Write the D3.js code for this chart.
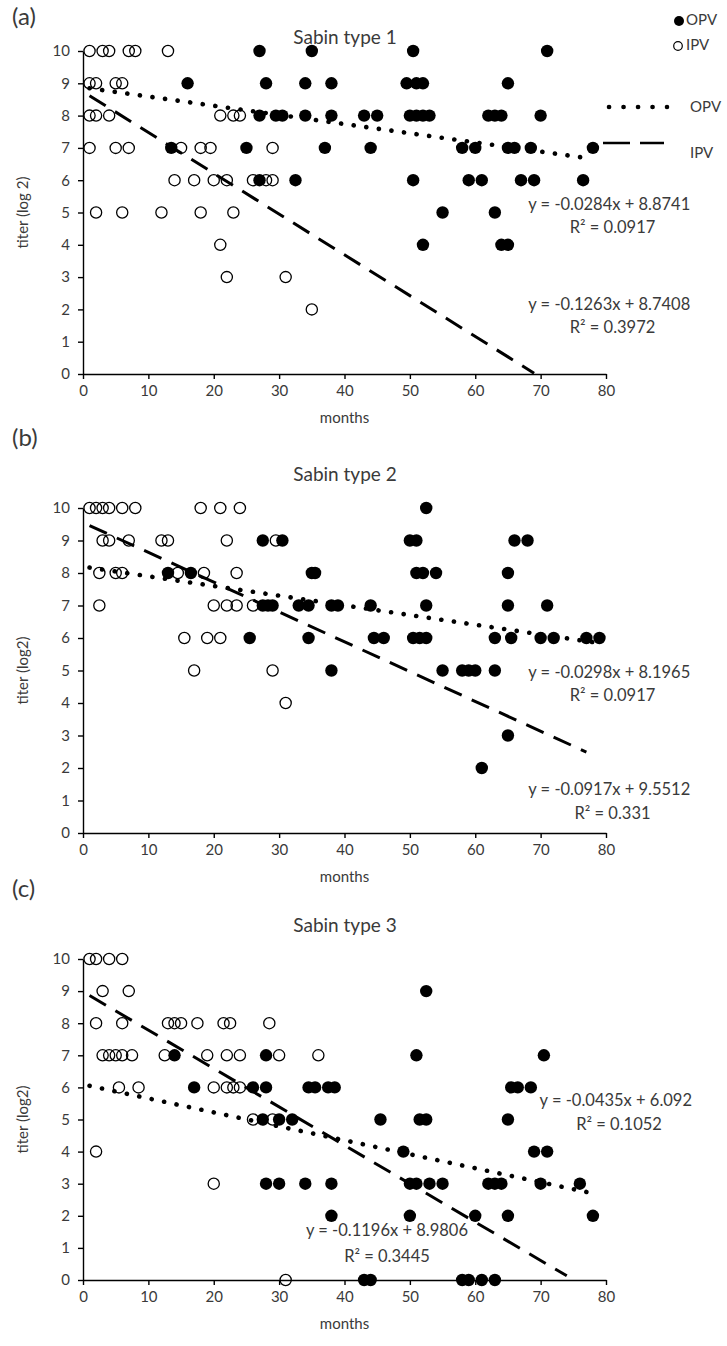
<!DOCTYPE html>
<html>
<head>
<meta charset="utf-8">
<script src="https://cdn.jsdelivr.net/npm/d3@7"></script>
<style>
  body { margin: 0; background: #fff; }
  svg { display: block; }
  text { font-family: Lato, "Open Sans", sans-serif; fill: #3a3a3a; }
</style>
</head>
<body>
<svg id="chart" width="727" height="1346"></svg>
<script>
// tick values
var monthTicks = [0, 10, 20, 30, 40, 50, 60, 70, 80];
var titerTicks = [0, 1, 2, 3, 4, 5, 6, 7, 8, 9, 10];

// Sabin type 1 : [months, titer]
var type1OPV = [[27,10],[35,10],[50.5,10],[71,10],
  [16,9],[28,9],[34,9],[38,9],[49.5,9],[51,9],[52,9],[65,9],
  [27,8],[29.5,8],[30.5,8],[34,8],[38,8],[43,8],[45,8],[50,8],[51,8],[52,8],[53,8],[62,8],[63,8],[64,8],[70,8],
  [13.5,7],[25,7],[37,7],[44,7],[58,7],[60,7],[65,7],[66,7],[68.5,7],[78,7],
  [27,6],[32.5,6],[50.5,6],[59,6],[61,6],[67,6],[69,6],[76.5,6],
  [55,5],[63,5],
  [52,4],[64,4],[65,4]];
var type1IPV = [[1,10],[3,10],[4,10],[7,10],[8,10],[13,10],
  [1,9],[2,9],[5,9],[6,9],
  [1,8],[2,8],[4,8],[21,8],[23,8],[24,8],
  [1,7],[5,7],[7,7],[15,7],[18,7],[19.5,7],[29,7],
  [14,6],[17,6],[20,6],[22,6],[26,6],[28,6],[29,6],
  [2,5],[6,5],[12,5],[18,5],[23,5],
  [21,4],
  [22,3],[31,3],
  [35,2]];

// Sabin type 2
var type2OPV = [[52.5,10],
  [27.5,9],[30.5,9],[50,9],[51,9],[66,9],[68,9],
  [13,8],[16.5,8],[35,8],[35.5,8],[51,8],[52,8],[54,8],[65,8],
  [27.5,7],[28.3,7],[29,7],[33,7],[34.5,7],[38,7],[39,7],[44,7],[52.5,7],[65,7],[71,7],
  [25.5,6],[34.5,6],[44.5,6],[46,6],[50.5,6],[51.5,6],[52.5,6],[63,6],[65.5,6],[70,6],[72,6],[77,6],[79,6],
  [38,5],[55,5],[58,5],[59,5],[60,5],[63,5],
  [65,3],
  [61,2]];
var type2IPV = [[1,10],[2,10],[3,10],[4,10],[6,10],[8,10],[18,10],[21,10],[24,10],
  [3,9],[4,9],[7,9],[12,9],[13,9],[22,9],[29.5,9],
  [2.5,8],[5,8],[6,8],[14.5,8],[18.5,8],[23.5,8],
  [2.5,7],[20,7],[22,7],[23.5,7],[26,7],
  [15.5,6],[19,6],[21,6],
  [17,5],[29,5],
  [31,4]];

// Sabin type 3
var type3OPV = [[52.5,9],
  [14,7],[28,7],[51,7],[70.5,7],
  [17,6],[26,6],[28,6],[34.5,6],[35.5,6],[37.5,6],[38.5,6],[65.5,6],[66.5,6],[68.5,6],
  [27.5,5],[30,5],[32,5],[45.5,5],[51.5,5],[52.5,5],[65,5],
  [49,4],[69,4],[71,4],
  [28,3],[30,3],[34,3],[38,3],[50,3],[51,3],[53,3],[55,3],[62,3],[63,3],[64,3],[70,3],[76,3],
  [38,2],[50,2],[60,2],[65,2],[78,2],
  [43,0],[44,0],[58,0],[59,0],[61,0],[63,0]];
var type3IPV = [[1,10],[2,10],[4,10],[6,10],
  [3,9],[7,9],
  [2,8],[6,8],[13,8],[14,8],[15,8],[17.5,8],[21.5,8],[22.5,8],[28.5,8],
  [3,7],[4,7],[5,7],[6,7],[7.5,7],[12.5,7],[19,7],[22,7],[24,7],[30,7],[36,7],
  [5.5,6],[8.5,6],[20,6],[22,6],[23,6],[24,6],
  [26,5],[29,5],
  [2,4],
  [20,3],
  [31,0]];

// linear trendlines: slope, intercept, x from, x to
var type1OPVFit = [-0.0284, 8.8741, 1, 77];
var type1IPVFit = [-0.1263, 8.7408, 1, 69];
var type2OPVFit = [-0.0298, 8.1965, 1, 78];
var type2IPVFit = [-0.0917, 9.5512, 1, 77];
var type3OPVFit = [-0.0435, 6.092, 1, 77];
var type3IPVFit = [-0.1196, 8.9806, 1, 74];

var titles = ["Sabin type 1", "Sabin type 2", "Sabin type 3"];
var panelLabels = ["(a)", "(b)", "(c)"];
var yTitles = ["titer (log 2)", "titer (log2)", "titer (log2)"];
var eqTexts = [
  ["y = -0.0284x + 8.8741", "R\u00b2 = 0.0917", "y = -0.1263x + 8.7408", "R\u00b2 = 0.3972"],
  ["y = -0.0298x + 8.1965", "R\u00b2 = 0.0917", "y = -0.0917x + 9.5512", "R\u00b2 = 0.331"],
  ["y = -0.0435x + 6.092", "R\u00b2 = 0.1052", "y = -0.1196x + 8.9806", "R\u00b2 = 0.3445"]
];

// layout (pixels) and label anchors (in data units)
var panels = [
  { top: 51, bottom: 374, opv: type1OPV, ipv: type1IPV, opvFit: type1OPVFit, ipvFit: type1IPVFit,
    eqPos: [[80.5, 5.2], [81, 4.5], [80.5, 2.1], [81, 1.4]] },
  { top: 508, bottom: 833, opv: type2OPV, ipv: type2IPV, opvFit: type2OPVFit, ipvFit: type2IPVFit,
    eqPos: [[80.5, 4.9], [81, 4.2], [80.5, 1.3], [81, 0.55]] },
  { top: 959, bottom: 1280, opv: type3OPV, ipv: type3IPV, opvFit: type3OPVFit, ipvFit: type3IPVFit,
    eqPos: [[81.5, 5.55], [82, 4.8], [46.5, 1.5], [46.5, 0.7]] }
];

var left = 83, right = 606;
var svg = d3.select("#chart");

var x = d3.scaleLinear().domain([0, 80]).range([left, right]);

panels.forEach(function(p, i) {
  var y = d3.scaleLinear().domain([0, 10]).range([p.bottom, p.top]);
  var g = svg.append("g");

  // axes
  var xAxis = d3.axisBottom(x).tickValues(monthTicks).tickSize(5).tickSizeOuter(0).tickPadding(6);
  var yAxis = d3.axisLeft(y).tickValues(titerTicks).tickSize(5).tickSizeOuter(0).tickPadding(8);

  var gx = g.append("g").attr("transform", "translate(0," + p.bottom + ")").call(xAxis);
  var gy = g.append("g").attr("transform", "translate(" + left + ",0)").call(yAxis);
  [gx, gy].forEach(function(a) {
    a.select(".domain").attr("stroke", "#000").attr("stroke-width", 1.4);
    a.selectAll(".tick line").attr("stroke", "#000").attr("stroke-width", 1.4);
    a.selectAll(".tick text").style("font-size", "15px").attr("fill", "#3a3a3a");
  });

  // points
  g.append("g").selectAll("circle").data(p.opv).enter().append("circle")
    .attr("cx", function(d) { return x(d[0]); })
    .attr("cy", function(d) { return y(d[1]); })
    .attr("r", 6.2)
    .attr("fill", "#000");

  g.append("g").selectAll("circle").data(p.ipv).enter().append("circle")
    .attr("cx", function(d) { return x(d[0]); })
    .attr("cy", function(d) { return y(d[1]); })
    .attr("r", 5.6)
    .attr("fill", "none")
    .attr("stroke", "#000")
    .attr("stroke-width", 1.3);

  // trendlines
  function fitLine(f) {
    return [[f[2], f[0] * f[2] + f[1]], [f[3], f[0] * f[3] + f[1]]];
  }
  var line = d3.line().x(function(d) { return x(d[0]); }).y(function(d) { return y(d[1]); });

  g.append("path").attr("d", line(fitLine(p.opvFit)))
    .attr("fill", "none").attr("stroke", "#000")
    .attr("stroke-width", 4.6).attr("stroke-linecap", "round")
    .attr("stroke-dasharray", "0.1 12.6");

  g.append("path").attr("d", line(fitLine(p.ipvFit)))
    .attr("fill", "none").attr("stroke", "#000")
    .attr("stroke-width", 3).attr("stroke-dasharray", "19 11");

  // equations
  eqTexts[i].forEach(function(t, k) {
    g.append("text")
      .attr("x", x(p.eqPos[k][0]))
      .attr("y", y(p.eqPos[k][1]))
      .attr("text-anchor", "middle")
      .attr("dominant-baseline", "middle")
      .style("font-size", "16.5px")
      .text(t);
  });

  // titles
  g.append("text").attr("x", 345).attr("y", p.top - (i === 0 ? 12 : 32))
    .attr("text-anchor", "middle").attr("dominant-baseline", "middle")
    .style("font-size", "19px").text(titles[i]);

  g.append("text").attr("x", 12).attr("y", p.top - (i === 0 ? 32 : 68))
    .attr("dominant-baseline", "middle")
    .style("font-size", "24px").text(panelLabels[i]);

  g.append("text").attr("x", (left + right) / 2).attr("y", p.bottom + 45)
    .attr("text-anchor", "middle").attr("dominant-baseline", "middle")
    .style("font-size", "15px").text("months");

  g.append("text")
    .attr("transform", "translate(24," + ((p.top + p.bottom) / 2) + ") rotate(-90)")
    .attr("text-anchor", "middle").attr("dominant-baseline", "middle")
    .style("font-size", "15px").text(yTitles[i]);
});

// legend (panel a)
var lg = svg.append("g");
lg.append("circle").attr("cx", 679).attr("cy", 21).attr("r", 5).attr("fill", "#000");
lg.append("text").attr("x", 686).attr("y", 21).attr("dominant-baseline", "middle")
  .style("font-size", "15px").text("OPV");
lg.append("circle").attr("cx", 678).attr("cy", 46).attr("r", 4.3)
  .attr("fill", "none").attr("stroke", "#000").attr("stroke-width", 1.2);
lg.append("text").attr("x", 686).attr("y", 46).attr("dominant-baseline", "middle")
  .style("font-size", "15px").text("IPV");
lg.append("line").attr("x1", 609).attr("x2", 667).attr("y1", 107).attr("y2", 107)
  .attr("stroke", "#000").attr("stroke-width", 4.6).attr("stroke-linecap", "round")
  .attr("stroke-dasharray", "0.1 14.4");
lg.append("text").attr("x", 690).attr("y", 108).attr("dominant-baseline", "middle")
  .style("font-size", "15px").text("OPV");
lg.append("line").attr("x1", 603).attr("x2", 664).attr("y1", 143).attr("y2", 143)
  .attr("stroke", "#000").attr("stroke-width", 2.6).attr("stroke-dasharray", "27 10");
lg.append("text").attr("x", 690).attr("y", 154).attr("dominant-baseline", "middle")
  .style("font-size", "15px").text("IPV");
</script>
</body>
</html>
